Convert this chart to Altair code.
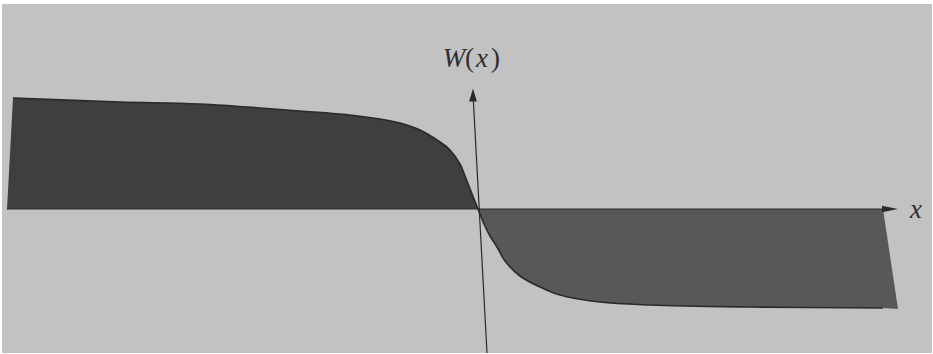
import altair as alt
import pandas as pd

# W(x): a kink profile, positive plateau on the left, negative on the right
left_x = [-4.65, -3.58, -2.78, -1.78, -1.28, -0.98, -0.78, -0.58, -0.38, -0.28, -0.18, -0.13, -0.06, 0.0]
left_w = [1.11, 1.07, 1.05, 0.98, 0.94, 0.90, 0.86, 0.79, 0.67, 0.59, 0.45, 0.33, 0.15, 0.0]

right_x = [0.0, 0.06, 0.12, 0.19, 0.27, 0.42, 0.62, 0.82, 1.22, 1.72, 2.72, 4.05]
right_w = [0.0, -0.15, -0.27, -0.38, -0.52, -0.67, -0.78, -0.86, -0.93, -0.96, -0.98, -0.99]

# slanted outer edges of the two shaded bands
left_edge_x = [-4.71, -4.65]
left_edge_w = [0.0, 1.11]
left_edge_base = [0.0, 0.0]
right_edge_x = [4.05, 4.20]
right_edge_w = [-0.99, -1.00]
right_edge_base = [0.0, -1.00]

# axes drawn by hand, with arrowheads
x_axis_x = [-4.71, 4.12]
y_axis_x = [-0.05, 0.09]
y_axis_w = [1.15, -1.44]
x_arrow = {"x": 4.12, "w": 0.0}
y_arrow = {"x": -0.05, "w": 1.14}

# axis captions: W(x) set in pieces (italic letters, upright parentheses), and x
caption_x = [-0.24, -0.085, 0.04, 0.175, 4.38]
caption_w = [1.42, 1.42, 1.42, 1.42, -0.09]
caption_t = ["W", "(", "x", ")", "x"]
caption_style = ["italic", "normal", "italic", "normal", "italic"]

paper = "#c2c2c2"
ink = "#2a2a2c"
dark_band = "#3f3f41"
light_band = "#58585a"

xs = alt.Scale(domain=[-4.76, 4.54], nice=False, zero=False)
ys = alt.Scale(domain=[-1.44, 2.05], nice=False, zero=False)


def X(f):
    return alt.X(f, type="quantitative", scale=xs, axis=None)


def Y(f):
    return alt.Y(f, type="quantitative", scale=ys, axis=None)


left_df = pd.DataFrame({"x": left_x, "w": left_w})
right_df = pd.DataFrame({"x": right_x, "w": right_w})
curve_df = pd.DataFrame({"x": left_x + right_x[1:], "w": left_w + right_w[1:]})

left_area = alt.Chart(left_df).mark_area(color=dark_band, interpolate="catmull-rom").encode(
    x=X("x"), y=Y("w"), y2=alt.datum(0))
right_area = alt.Chart(right_df).mark_area(color=light_band, interpolate="catmull-rom").encode(
    x=X("x"), y=Y("w"), y2=alt.datum(0))
left_edge = alt.Chart(pd.DataFrame({"x": left_edge_x, "w": left_edge_w, "b": left_edge_base})).mark_area(
    color=dark_band).encode(x=X("x"), y=Y("w"), y2="b")
right_edge = alt.Chart(pd.DataFrame({"x": right_edge_x, "w": right_edge_w, "b": right_edge_base})).mark_area(
    color=light_band).encode(x=X("x"), y=Y("w"), y2="b")
curve = alt.Chart(curve_df).mark_line(color=ink, strokeWidth=1.6, interpolate="catmull-rom").encode(
    x=X("x"), y=Y("w"))

x_axis = alt.Chart(pd.DataFrame({"x": [x_axis_x[0]], "x2": [x_axis_x[1]], "w": [0.0]})).mark_rule(
    color=ink, strokeWidth=1.1).encode(x=X("x"), x2="x2", y=Y("w"))
y_axis = alt.Chart(pd.DataFrame({"x": [y_axis_x[0]], "x2": [y_axis_x[1]],
                                 "w": [y_axis_w[0]], "w2": [y_axis_w[1]]})).mark_rule(
    color=ink, strokeWidth=1.2).encode(x=X("x"), x2="x2", y=Y("w"), y2="w2")

x_head = alt.Chart(pd.DataFrame([x_arrow])).mark_point(
    shape="M1,0L-1,0.42L-1,-0.42Z", size=256, filled=True, color=ink, opacity=1).encode(
    x=X("x"), y=Y("w"))
y_head = alt.Chart(pd.DataFrame([y_arrow])).mark_point(
    shape="M0,-1L0.6,1L-0.6,1Z", size=169, filled=True, color=ink, opacity=1).encode(
    x=X("x"), y=Y("w"))

captions = pd.DataFrame({"x": caption_x, "w": caption_w, "t": caption_t, "s": caption_style})
italic_text = alt.Chart(captions).transform_filter(alt.datum.s == "italic").mark_text(
    font="Liberation Serif", fontStyle="italic", fontSize=27, color="#2e2e30",
    baseline="alphabetic", align="center").encode(x=X("x"), y=Y("w"), text="t")
upright_text = alt.Chart(captions).transform_filter(alt.datum.s == "normal").mark_text(
    font="Liberation Serif", fontSize=27, color="#2e2e30",
    baseline="alphabetic", align="center").encode(x=X("x"), y=Y("w"), text="t")

chart = alt.layer(
    left_area, right_area, left_edge, right_edge, curve,
    x_axis, y_axis, x_head, y_head, italic_text, upright_text,
).properties(
    width=930, height=349, background="white",
    padding={"left": 2, "top": 4, "right": 1, "bottom": 1},
    autosize=alt.AutoSizeParams(type="none"),
).configure_view(fill=paper, stroke=None)

chart.save("out.html", embed_options={"renderer": "svg", "actions": False})
